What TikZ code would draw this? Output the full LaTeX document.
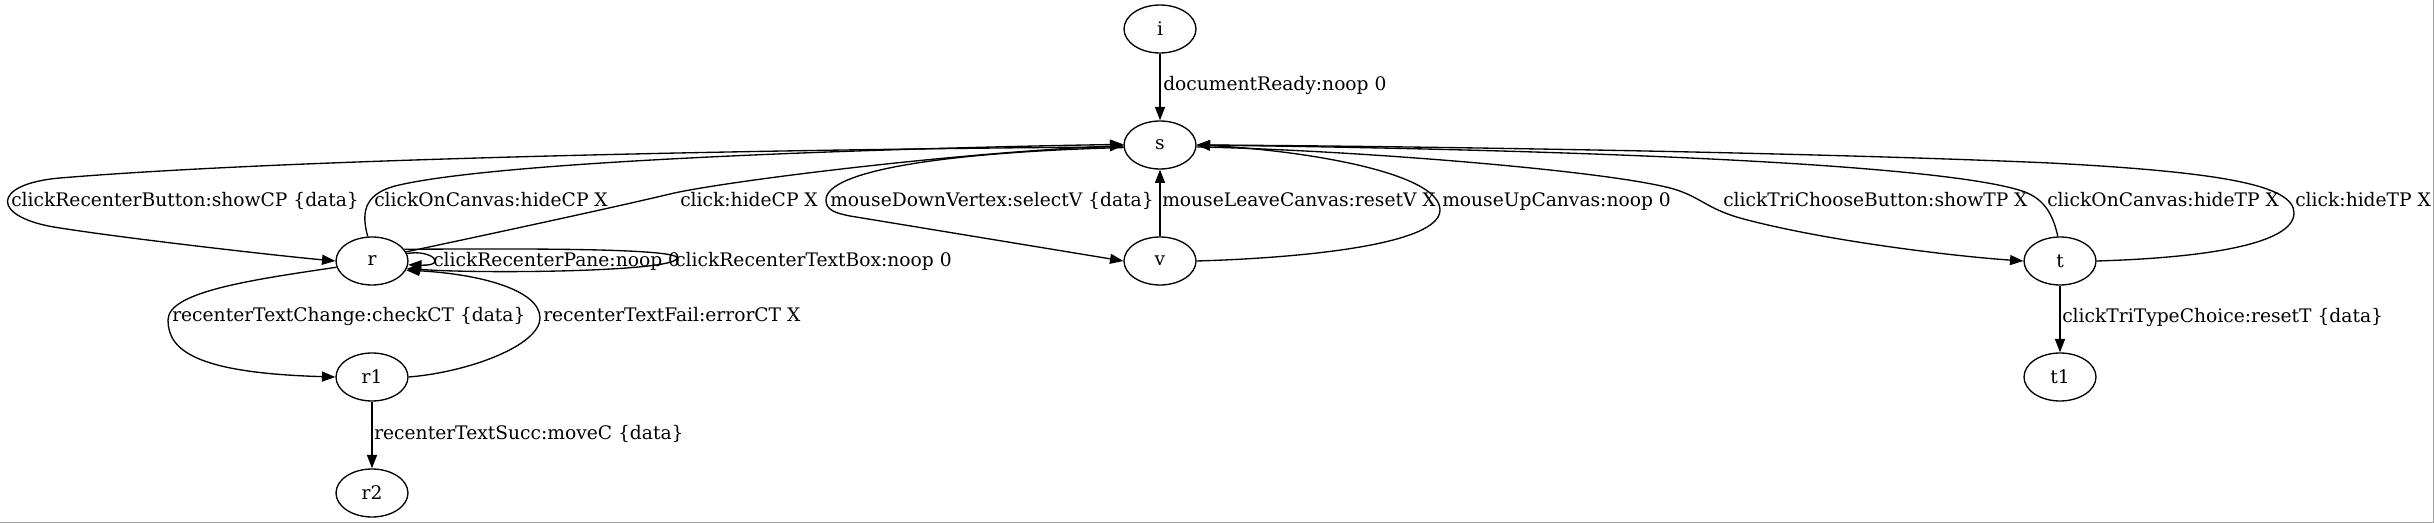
\documentclass[tikz,border=0pt]{standalone}
\usepackage{fontspec}
\setmainfont{DejaVu Serif}
\usetikzlibrary{shapes.geometric,arrows.meta}
\definecolor{framegray}{RGB}{160,160,160}
\begin{document}
\begin{tikzpicture}[x=0.75pt,y=-0.75pt,
  st/.style={ellipse,draw,line width=1pt,minimum width=54pt,minimum height=36pt,inner sep=0pt,font=\fontsize{14pt}{16pt}\selectfont},
  lab/.style={anchor=west,inner sep=0pt,text height=10pt,text depth=3pt,font=\fontsize{14pt}{16pt}\selectfont},
  ed/.style={line width=1pt,-{Triangle[length=10pt,width=7.5pt]}}]
\useasboundingbox (0,0) rectangle (2434,523);
\draw[framegray,line width=1.2pt] (0,522.6) -- (2433.3,522.6) -- (2433.3,0);
% nodes
\node[st] (i) at (1160,29) {i};
\node[st] (s) at (1160,145) {s};
\node[st] (r) at (372,261) {r};
\node[st] (v) at (1160,261) {v};
\node[st] (t) at (2060,261) {t};
\node[st] (r1) at (372,377) {r1};
\node[st] (t1) at (2060,377) {t1};
\node[st] (r2) at (372,493) {r2};
% edges
\draw[ed] (i.south) -- (s.north);
\node[lab] (l1) at (1163,86) {documentReady:noop 0};
\draw[ed] (s.183) .. controls (800,149) and (300,158) .. (60,178) .. controls (-10,184) and (-10,218) .. (60,228) .. controls (130,239) and (280,256) .. (r.west);
\node[lab] (l2) at (11,202) {clickRecenterButton:showCP \{data\}};
\draw[ed] (r.100) .. controls (362,215) and (362,195) .. (395,186) .. controls (500,160) and (900,148) .. (s.179);
\node[lab] (l3) at (374,202) {clickOnCanvas:hideCP X};
\draw[ed] (r.15) .. controls (500,232) and (620,206) .. (670,194) .. controls (720,182) and (950,153) .. (s.181);
\node[lab] (l4) at (680,202) {click:hideCP X};
\draw[ed] (r.12) .. controls (432,249) and (448,266) .. (r.-6);
\node[lab] (l5) at (433,262) {clickRecenterPane:noop 0};
\draw[ed] (r.20) .. controls (480,249) and (677,247) .. (677,258) .. controls (677,272) and (480,274) .. (r.-12);
\node[lab] (l6) at (675,262) {clickRecenterTextBox:noop 0};
\draw[ed] (s.184) .. controls (950,152) and (826,170) .. (826,200) .. controls (826,210) and (835,213) .. (850,216) -- (v.west);
\node[lab] (l7) at (830,202) {mouseDownVertex:selectV \{data\}};
\draw[ed] (v.north) -- (s.south);
\node[lab] (l8) at (1162,202) {mouseLeaveCanvas:resetV X};
\draw[ed] (v.east) .. controls (1300,258) and (1440,245) .. (1440,210) .. controls (1440,172) and (1300,150) .. (s.east);
\node[lab] (l9) at (1442,202) {mouseUpCanvas:noop 0};
\draw[ed] (s.-3) .. controls (1350,150) and (1600,170) .. (1670,188) .. controls (1700,196) and (1705,208) .. (1740,218) .. controls (1820,240) and (1950,256) .. (t.west);
\node[lab] (l10) at (1723,202) {clickTriChooseButton:showTP X};
\draw[ed] (t.95) .. controls (2053,215) and (2045,200) .. (2025,192) .. controls (1950,165) and (1600,150) .. (s.east);
\node[lab] (l11) at (2047,202) {clickOnCanvas:hideTP X};
\draw[ed] (t.east) .. controls (2200,258) and (2294,245) .. (2294,213) .. controls (2294,185) and (2220,172) .. (2050,163) .. controls (1800,152) and (1400,146) .. (s.east);
\node[lab] (l12) at (2295,202) {click:hideTP X};
\draw[ed] (t.south) -- (t1.north);
\node[lab] (l13) at (2062,318) {clickTriTypeChoice:resetT \{data\}};
\draw[ed] (r.190) .. controls (250,280) and (168,292) .. (168,320) .. controls (168,350) and (195,373) .. (r1.west);
\node[lab] (l14) at (172,317) {recenterTextChange:checkCT \{data\}};
\draw[ed] (r1.east) .. controls (470,372) and (540,345) .. (540,318) .. controls (540,290) and (480,274) .. (r.-15);
\node[lab] (l15) at (543,317) {recenterTextFail:errorCT X};
\draw[ed] (r1.south) -- (r2.north);
\node[lab] (l16) at (374,435) {recenterTextSucc:moveC \{data\}};
\end{tikzpicture}
\end{document}
